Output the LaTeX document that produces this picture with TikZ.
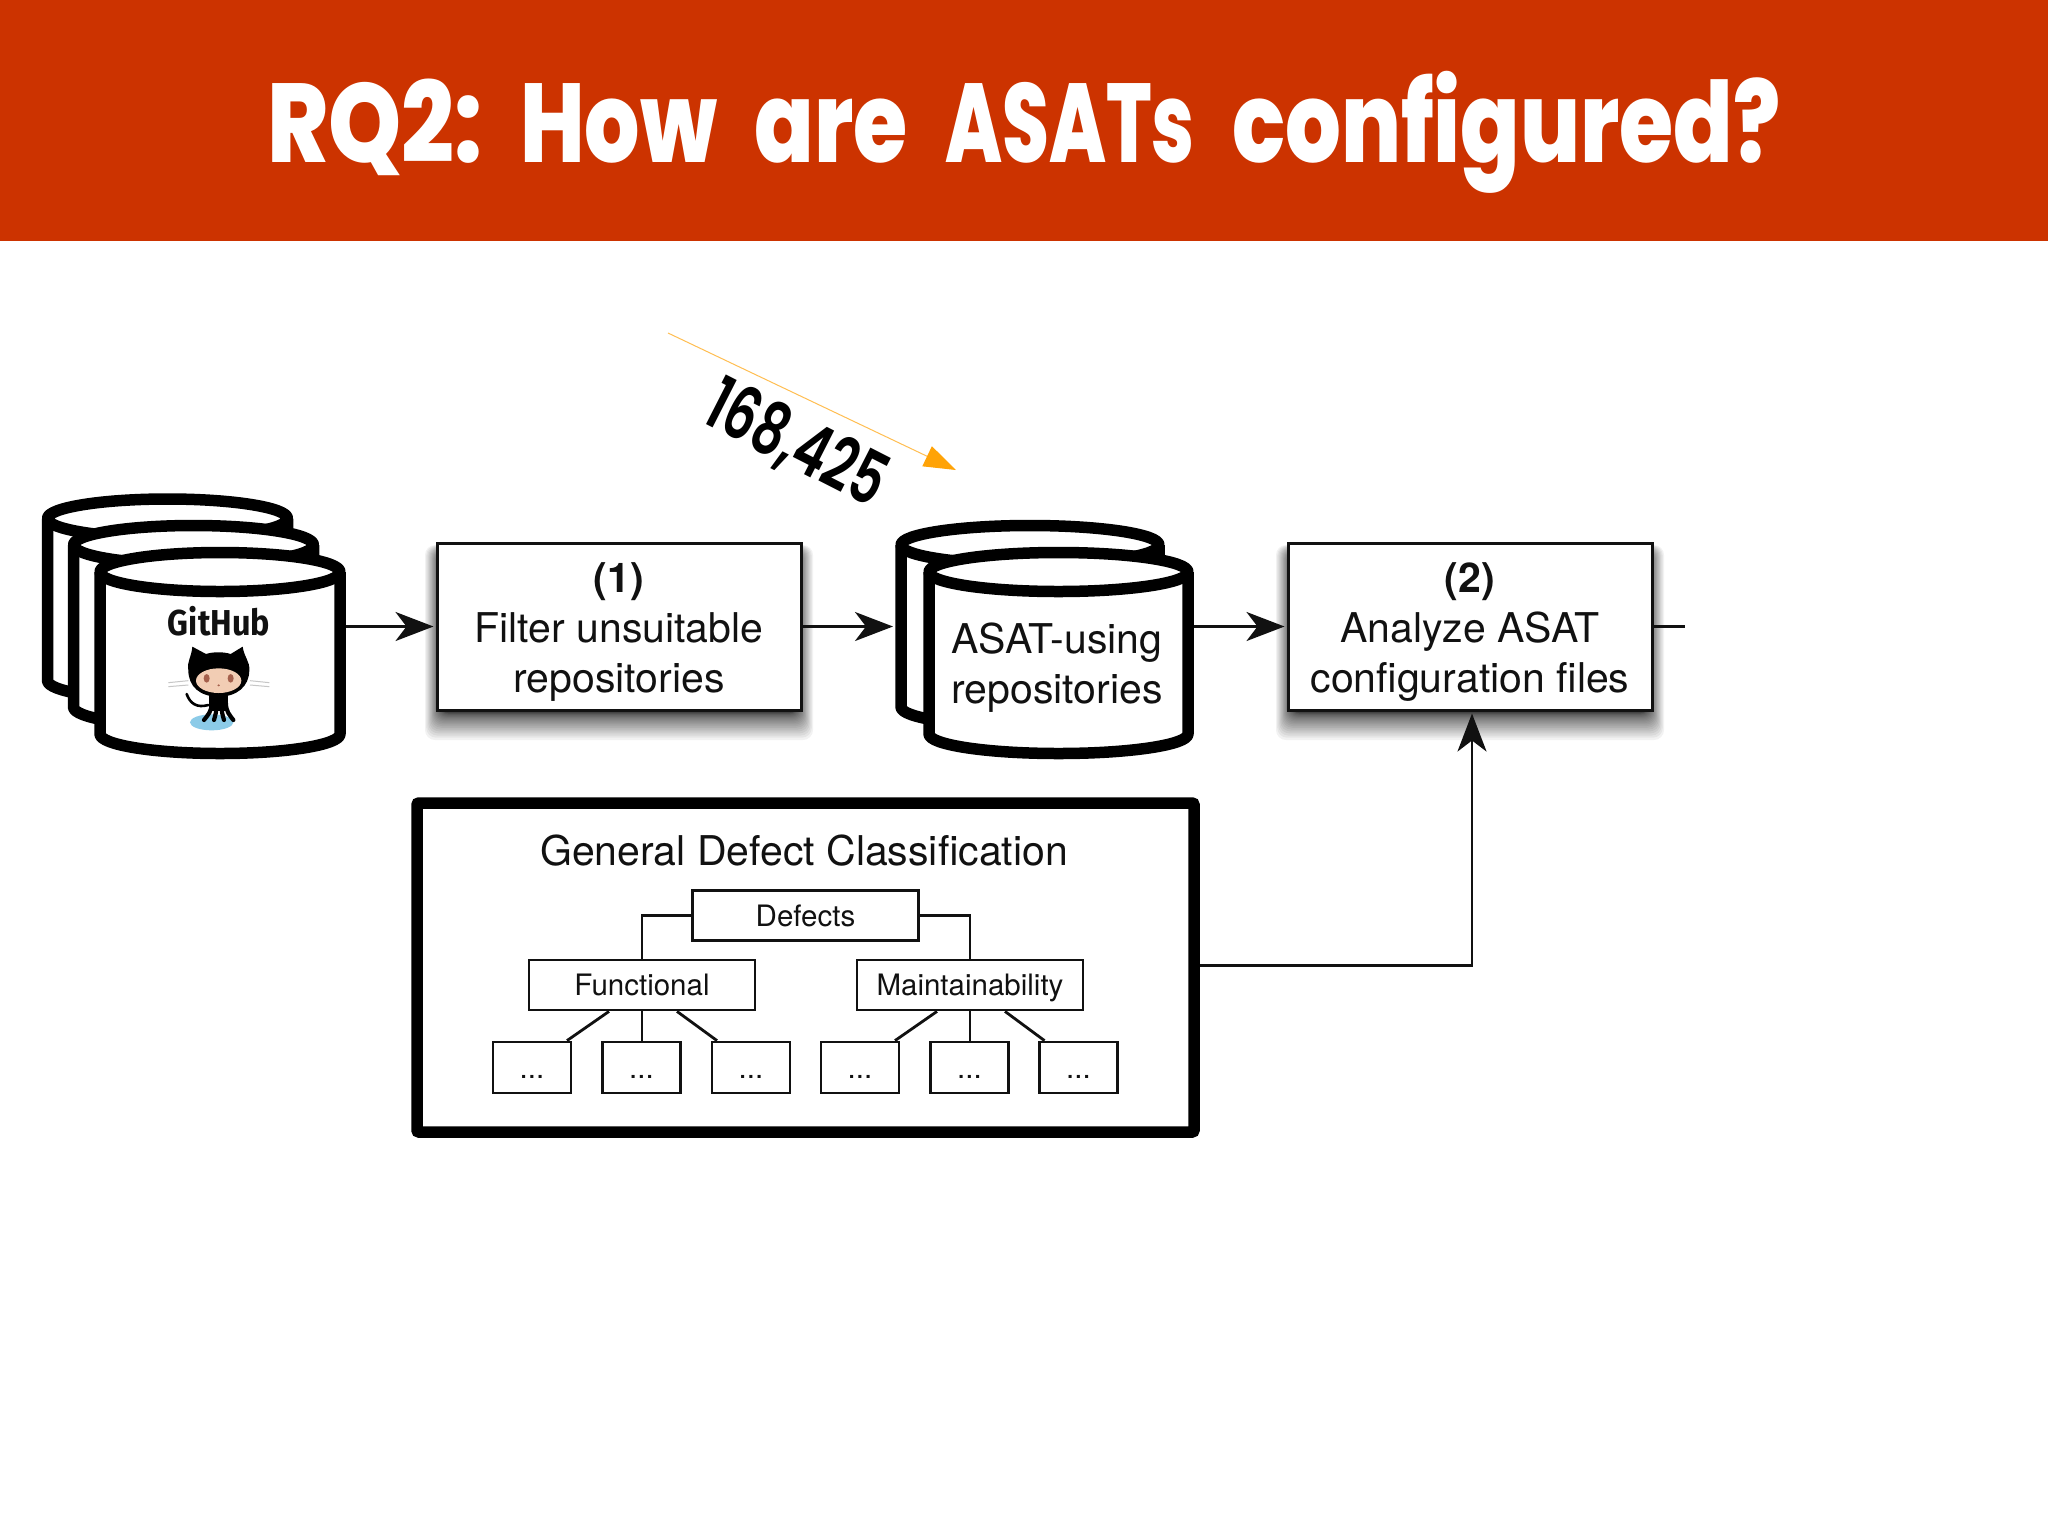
\documentclass[tikz,border=0pt]{standalone}
\usepackage{fontspec}
\usepackage{graphicx}
\setmainfont{TeX Gyre Heros}
\newfontfamily\titlefont[WordSpace=1.75]{Poppins ExtraBold}
\newfontfamily\numfont{Poppins SemiBold}
\newfontfamily\ghfont{Fira Sans}
\usetikzlibrary{arrows.meta,calc}
\definecolor{header}{HTML}{CC3300}
\definecolor{ink}{HTML}{111111}
\definecolor{tipcol}{HTML}{FFA307}
\definecolor{water}{HTML}{8CCBE8}
\definecolor{skin}{HTML}{F2CDB4}
\definecolor{eyec}{HTML}{A5604C}
\newcommand{\dbcyl}[5]{%
  \filldraw[cylline] ({#1-#3},#2) -- ({#1-#3},#5) arc[start angle=180,end angle=0,x radius=#3,y radius=#4] -- ({#1+#3},#2);
  \filldraw[cylline] (#1,#2) ellipse[x radius=#3,y radius=#4];
}
\newcommand{\softshadow}[4]{%
  \foreach \k in {0,...,23}{
    \pgfmathsetmacro{\tt}{(1-\k/23)^2}
    \fill[black,opacity=.05,rounded corners=10pt] ({#1+2-14*\tt},{#2+8-6*\tt}) rectangle ({#3-2+14*\tt},{#4+3+27*\tt});
  }
}
\newcommand{\tw}[2]{\resizebox{#1pt}{\height}{#2}}
\tikzset{
  cylline/.style={draw=black,fill=white,line width=11.5pt,line join=round},
  procbox/.style={draw=ink,fill=white,line width=3pt,minimum width=364pt,minimum height=167pt,align=center,inner sep=0pt,font=\fontsize{41}{50}\selectfont,text=ink},
  cyllabel/.style={align=center,inner sep=0pt,font=\fontsize{41}{50}\selectfont,text=ink},
  anchorbox/.style={inner sep=0pt,outer sep=0pt},
  treebox/.style={draw=ink,fill=white,line width=2.8pt,inner sep=0pt,font=\fontsize{29.5}{34}\selectfont,text=ink,text height=21pt,text depth=0pt},
  midbox/.style={treebox,minimum width=226pt,minimum height=50pt},
  leafbox/.style={treebox,minimum width=78pt,minimum height=51pt},
  flow/.style={draw=ink,line width=2.6pt,-{Stealth[length=38pt,width=29pt,inset=11pt]},shorten >=2pt},
  plain/.style={draw=ink,line width=2.6pt},
  treeline/.style={draw=ink,line width=2.8pt},
}
\begin{document}
\begin{tikzpicture}[x=1pt,y=-1pt]
\useasboundingbox (0,0) rectangle (2048,1535);
\fill[white] (0,0) rectangle (2048,1535);
\fill[header] (0,0) rectangle (2048,241);
\node[anchor=base,inner sep=0pt,text=white,font=\fontsize{112}{120}\selectfont\titlefont] (title) at (1024,162) {\tw{215.5}{RQ2:} \tw{197}{How} \tw{153}{are} \tw{249.5}{ASATs} \tw{548.5}{configured?}};
% orange arrow and number
\coordinate (oa) at (668,333);
\coordinate (ob) at (956,470);
\draw[tipcol!70,line width=1pt,-{Triangle[length=32pt,width=22pt,color=tipcol]}] (oa) -- (ob);
\node[rotate=-27,inner sep=0pt,text=black,font=\fontsize{73}{90}\selectfont\numfont] (count) at (796,445) {\tw{192}{168,425}};
% GitHub stack
\dbcyl{167.5}{518.5}{120}{19.5}{680.5}
\dbcyl{193.5}{545}{120}{19.5}{707}
\dbcyl{220}{572}{120}{19.5}{734}
\node[anchorbox,minimum width=252pt,minimum height=212pt] (gh) at (220,653) {};
\node[inner sep=0pt,text=ink,font=\fontsize{36}{40}\selectfont\ghfont\bfseries] (ghlabel) at (219,621) {\tw{102}{GitHub}};
\begin{scope}[shift={(20,470)},x=1pt/3,y=-1pt/3]
  \fill[water] (575,757) ellipse[x radius=65,y radius=24];
  \draw[black,line width=2.6pt,line cap=round] (500,672) .. controls (510,700) and (530,715) .. (565,705);
  \draw[gray!45,line width=1pt] (445,638) -- (505,632) (445,650) -- (505,645) (690,632) -- (748,638) (690,645) -- (748,650);
  \fill[black] (568,670) rectangle (625,722);
  \foreach \a/\b in {575/552,590/582,604/612,618/640}{
    \draw[black,line width=4.2pt,line cap=round] (\a,700) .. controls (\a,725) and ({(\a+\b)/2},735) .. (\b,750);
  }
  \fill[black] (505,600) .. controls (500,575) and (515,560) .. (517,530) -- (558,552) .. controls (580,545) and (610,545) .. (632,552) -- (668,530) .. controls (672,560) and (690,575) .. (688,600) .. controls (688,650) and (650,680) .. (596,680) .. controls (540,680) and (505,650) .. (505,600) -- cycle;
  \fill[skin] (596,632) ellipse[x radius=68,y radius=37];
  \fill[eyec] (560,625) ellipse[x radius=9,y radius=13] (632,625) ellipse[x radius=9,y radius=13];
  \fill[eyec] (596,646) ellipse[x radius=4,y radius=3];
\end{scope}
% process 1
\softshadow{437}{543}{801}{710}
\node[procbox] (p1) at (619,626.5) {\rule{0pt}{40pt}\textbf{(1)}\\Filter unsuitable\\repositories};
% ASAT stack
\dbcyl{1030}{545}{129}{19.5}{707}
\node[anchorbox,minimum width=270pt,minimum height=212pt] (asatback) at (1030,626.5) {};
\dbcyl{1058.5}{572}{129.5}{19.5}{734}
\node[anchorbox,minimum width=271pt,minimum height=212pt] (asat) at (1058.5,653) {};
\node[cyllabel] (asatlabel) at (1057,667.5) {ASAT-using\\repositories};
% process 2
\softshadow{1288}{543}{1652}{710}
\node[procbox] (p2) at (1470,626.5) {\rule{0pt}{40pt}\textbf{(2)}\\Analyze ASAT\\configuration files};
\coordinate (tail) at (1685,626.5);
% classification
\draw[draw=black,fill=white,line width=11.5pt,rounded corners=2pt] (417,803) rectangle (1194,1132);
\node[anchorbox,minimum width=789pt,minimum height=337pt] (gdc) at (805.5,965.5) {};
\node[inner sep=0pt,text=ink,font=\fontsize{41}{48}\selectfont] (gdctitle) at (804,851) {General Defect Classification};
\node[midbox] (def) at (805.5,915.5) {Defects};
\node[midbox] (fun) at (642,985) {Functional};
\node[midbox] (mai) at (970,985) {Maintainability};
\foreach \n/\x in {l1/532,l2/641.5,l3/751,l4/860,l5/969.5,l6/1078.5}{
  \node[leafbox] (\n) at (\x,1067.5) {...};
}
\draw[treeline] (def.west) -| (fun.north);
\draw[treeline] (def.east) -| (mai.north);
\draw[treeline] ([xshift=-33pt]fun.south) -- ([xshift=35pt]l1.north);
\draw[treeline] (fun.south) -- (fun.south |- l2.north);
\draw[treeline] ([xshift=35pt]fun.south) -- ([xshift=-34pt]l3.north);
\draw[treeline] ([xshift=-33pt]mai.south) -- ([xshift=35pt]l4.north);
\draw[treeline] (mai.south) -- (mai.south |- l5.north);
\draw[treeline] ([xshift=35pt]mai.south) -- ([xshift=-34pt]l6.north);
% connectors
\draw[flow] (gh.east |- p1.west) -- (p1.west);
\draw[flow] (p1.east) -- (asatback.west);
\draw[flow] (asat.east |- p2.west) -- (p2.west);
\draw[plain] (p2.east) -- (tail);
\draw[flow] (gdc.east) -| ([xshift=2pt]p2.south);
\end{tikzpicture}
\end{document}
